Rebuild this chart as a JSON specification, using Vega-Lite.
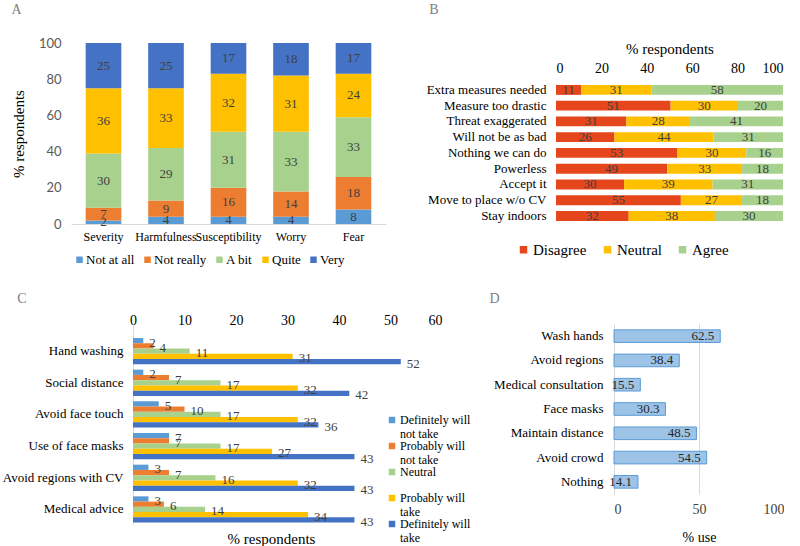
{
"$schema":"https://vega.github.io/schema/vega-lite/v6.json",
"background":"white",
"padding":{"left":2,"top":3,"right":0,"bottom":0},
"config":{"view":{"stroke":null},"font":"Liberation Serif",
 "title":{"font":"Liberation Serif","fontWeight":"normal","fontSize":14,"color":"#7f7f7f","anchor":"start"},
 "axis":{"labelFont":"Liberation Serif","titleFont":"Liberation Serif","titleFontWeight":"normal","labelColor":"#000000","titleColor":"#000000","ticks":false,"grid":false,"labelOverlap":false},
 "axisY":{"labelOverlap":false},
 "axisQuantitative":{"labelOverlap":false},
 "legend":{"labelFont":"Liberation Serif","labelColor":"#000000","symbolType":"square"}},
"datasets":{
 "a":[
  {"item":"Severity","level":"Not at all","ord":1,"value":2},
  {"item":"Severity","level":"Not really","ord":2,"value":7},
  {"item":"Severity","level":"A bit","ord":3,"value":30},
  {"item":"Severity","level":"Quite","ord":4,"value":36},
  {"item":"Severity","level":"Very","ord":5,"value":25},
  {"item":"Harmfulness","level":"Not at all","ord":1,"value":4},
  {"item":"Harmfulness","level":"Not really","ord":2,"value":9},
  {"item":"Harmfulness","level":"A bit","ord":3,"value":29},
  {"item":"Harmfulness","level":"Quite","ord":4,"value":33},
  {"item":"Harmfulness","level":"Very","ord":5,"value":25},
  {"item":"Susceptibility","level":"Not at all","ord":1,"value":4},
  {"item":"Susceptibility","level":"Not really","ord":2,"value":16},
  {"item":"Susceptibility","level":"A bit","ord":3,"value":31},
  {"item":"Susceptibility","level":"Quite","ord":4,"value":32},
  {"item":"Susceptibility","level":"Very","ord":5,"value":17},
  {"item":"Worry","level":"Not at all","ord":1,"value":4},
  {"item":"Worry","level":"Not really","ord":2,"value":14},
  {"item":"Worry","level":"A bit","ord":3,"value":33},
  {"item":"Worry","level":"Quite","ord":4,"value":31},
  {"item":"Worry","level":"Very","ord":5,"value":18},
  {"item":"Fear","level":"Not at all","ord":1,"value":8},
  {"item":"Fear","level":"Not really","ord":2,"value":18},
  {"item":"Fear","level":"A bit","ord":3,"value":33},
  {"item":"Fear","level":"Quite","ord":4,"value":24},
  {"item":"Fear","level":"Very","ord":5,"value":17}
 ],
 "b":[
  {"item":"Extra measures needed","level":"Disagree","ord":1,"value":11},
  {"item":"Extra measures needed","level":"Neutral","ord":2,"value":31},
  {"item":"Extra measures needed","level":"Agree","ord":3,"value":58},
  {"item":"Measure too drastic","level":"Disagree","ord":1,"value":51},
  {"item":"Measure too drastic","level":"Neutral","ord":2,"value":30},
  {"item":"Measure too drastic","level":"Agree","ord":3,"value":20},
  {"item":"Threat exaggerated","level":"Disagree","ord":1,"value":31},
  {"item":"Threat exaggerated","level":"Neutral","ord":2,"value":28},
  {"item":"Threat exaggerated","level":"Agree","ord":3,"value":41},
  {"item":"Will not be as bad","level":"Disagree","ord":1,"value":26},
  {"item":"Will not be as bad","level":"Neutral","ord":2,"value":44},
  {"item":"Will not be as bad","level":"Agree","ord":3,"value":31},
  {"item":"Nothing we can do","level":"Disagree","ord":1,"value":53},
  {"item":"Nothing we can do","level":"Neutral","ord":2,"value":30},
  {"item":"Nothing we can do","level":"Agree","ord":3,"value":16},
  {"item":"Powerless","level":"Disagree","ord":1,"value":49},
  {"item":"Powerless","level":"Neutral","ord":2,"value":33},
  {"item":"Powerless","level":"Agree","ord":3,"value":18},
  {"item":"Accept it","level":"Disagree","ord":1,"value":30},
  {"item":"Accept it","level":"Neutral","ord":2,"value":39},
  {"item":"Accept it","level":"Agree","ord":3,"value":31},
  {"item":"Move to place w/o CV","level":"Disagree","ord":1,"value":55},
  {"item":"Move to place w/o CV","level":"Neutral","ord":2,"value":27},
  {"item":"Move to place w/o CV","level":"Agree","ord":3,"value":18},
  {"item":"Stay indoors","level":"Disagree","ord":1,"value":32},
  {"item":"Stay indoors","level":"Neutral","ord":2,"value":38},
  {"item":"Stay indoors","level":"Agree","ord":3,"value":30}
 ],
 "c":[
  {"item":"Hand washing","series":"Definitely will not take","value":2},
  {"item":"Hand washing","series":"Probably will not take","value":4},
  {"item":"Hand washing","series":"Neutral","value":11},
  {"item":"Hand washing","series":"Probably will take","value":31},
  {"item":"Hand washing","series":"Definitely will take","value":52},
  {"item":"Social distance","series":"Definitely will not take","value":2},
  {"item":"Social distance","series":"Probably will not take","value":7},
  {"item":"Social distance","series":"Neutral","value":17},
  {"item":"Social distance","series":"Probably will take","value":32},
  {"item":"Social distance","series":"Definitely will take","value":42},
  {"item":"Avoid face touch","series":"Definitely will not take","value":5},
  {"item":"Avoid face touch","series":"Probably will not take","value":10},
  {"item":"Avoid face touch","series":"Neutral","value":17},
  {"item":"Avoid face touch","series":"Probably will take","value":32},
  {"item":"Avoid face touch","series":"Definitely will take","value":36},
  {"item":"Use of face masks","series":"Definitely will not take","value":7},
  {"item":"Use of face masks","series":"Probably will not take","value":7},
  {"item":"Use of face masks","series":"Neutral","value":17},
  {"item":"Use of face masks","series":"Probably will take","value":27},
  {"item":"Use of face masks","series":"Definitely will take","value":43},
  {"item":"Avoid regions with CV","series":"Definitely will not take","value":3},
  {"item":"Avoid regions with CV","series":"Probably will not take","value":7},
  {"item":"Avoid regions with CV","series":"Neutral","value":16},
  {"item":"Avoid regions with CV","series":"Probably will take","value":32},
  {"item":"Avoid regions with CV","series":"Definitely will take","value":43},
  {"item":"Medical advice","series":"Definitely will not take","value":3},
  {"item":"Medical advice","series":"Probably will not take","value":6},
  {"item":"Medical advice","series":"Neutral","value":14},
  {"item":"Medical advice","series":"Probably will take","value":34},
  {"item":"Medical advice","series":"Definitely will take","value":43}
 ],
 "d":[
  {"item":"Wash hands","value":62.5},
  {"item":"Avoid regions","value":38.4},
  {"item":"Medical consultation","value":15.5},
  {"item":"Face masks","value":30.3},
  {"item":"Maintain distance","value":48.5},
  {"item":"Avoid crowd","value":54.5},
  {"item":"Nothing","value":14.1}
 ]
},
"spacing":25,
"resolve":{"scale":{"color":"independent"},"legend":{"color":"independent"}},
"vconcat":[
 {"hconcat":[
  {
   "title":{"text":"A","offset":20},
   "width":315,"height":181,
   "data":{"name":"a"},
   "transform":[{"stack":"value","groupby":["item"],"sort":[{"field":"ord","order":"ascending"}],"as":["v0","v1"]}],
   "layer":[
    {"mark":{"type":"bar"},
     "encoding":{
      "x":{"field":"item","type":"nominal","sort":["Severity","Harmfulness","Susceptibility","Worry","Fear"],"scale":{"paddingInner":0.43,"paddingOuter":0.235},
           "axis":{"title":null,"labelAngle":0,"labelFontSize":12,"labelPadding":7,"domain":true,"domainColor":"#d9d9d9"}},
      "y":{"field":"v0","type":"quantitative","scale":{"domain":[0,100]},
           "axis":{"values":[0,20,40,60,80,100],"labelOverlap":false,"labelFont":"Lato","labelFontSize":13,"labelColor":"#595959","labelPadding":10,"domain":false,"title":"% respondents","titleFontSize":15,"titlePadding":12}},
      "y2":{"field":"v1"},
      "color":{"field":"level","type":"nominal","sort":["Not at all","Not really","A bit","Quite","Very"],
        "scale":{"domain":["Not at all","Not really","A bit","Quite","Very"],"range":["#5b9bd5","#ed7d31","#a9d18e","#ffc000","#4472c4"]},
        "legend":{"title":null,"orient":"none","direction":"horizontal","legendX":2,"legendY":210,"labelFontSize":13,"symbolSize":42,"columnPadding":6,"symbolStrokeWidth":0,"labelOffset":0}}
     }},
    {"transform":[{"fold":["v0","v1"],"as":["edge","pos"]},{"aggregate":[{"op":"mean","field":"pos","as":"mid"}],"groupby":["item","level","value"]}],
     "mark":{"type":"text","fontSize":13,"color":"#404040","baseline":"middle"},
     "encoding":{
      "x":{"field":"item","type":"nominal","sort":["Severity","Harmfulness","Susceptibility","Worry","Fear"]},
      "y":{"field":"mid","type":"quantitative",
           "axis":{"values":[0,20,40,60,80,100],"labelOverlap":false,"labelFont":"Lato","labelFontSize":13,"labelColor":"#595959","labelPadding":10,"domain":false,"title":"% respondents","titleFontSize":15,"titlePadding":12}},
      "text":{"field":"value","type":"quantitative"}
     }}
   ]
  },
  {
   "title":{"text":"B","offset":24,"dx":3},
   "width":227,"height":181,
   "data":{"name":"b"},
   "transform":[{"stack":"value","groupby":["item"],"sort":[{"field":"ord","order":"ascending"}],"offset":"normalize","as":["v0","v1"]}],
   "layer":[
    {"mark":{"type":"bar"},
     "encoding":{
      "y":{"field":"item","type":"nominal",
           "scale":{"domain":[" ","  ","Extra measures needed","Measure too drastic","Threat exaggerated","Will not be as bad","Nothing we can do","Powerless","Accept it","Move to place w/o CV","Stay indoors"],"paddingInner":0.37,"paddingOuter":0.43,"align":0.77},
           "axis":{"title":null,"labelFontSize":13,"labelPadding":10,"domain":false}},
      "x":{"field":"v0","type":"quantitative","scale":{"domain":[0,1]},
           "axis":{"orient":"top","offset":-39,"values":[0,0.2,0.4,0.6,0.8,1],"labelExpr":"format(datum.value*100,'d')","labelFontSize":14,"labelPadding":7,"domain":false,"title":"% respondents","titleFontSize":15,"titlePadding":5}},
      "x2":{"field":"v1"},
      "color":{"field":"level","type":"nominal","sort":["Disagree","Neutral","Agree"],
        "scale":{"domain":["Disagree","Neutral","Agree"],"range":["#e5461c","#ffc000","#a9d18e"]},
        "legend":{"title":null,"orient":"none","direction":"horizontal","legendX":-40,"legendY":199,"labelFontSize":15,"symbolSize":56,"columnPadding":13,"symbolStrokeWidth":0,"labelOffset":2}}
     }},
    {"transform":[{"fold":["v0","v1"],"as":["edge","pos"]},{"aggregate":[{"op":"mean","field":"pos","as":"mid"}],"groupby":["item","level","value"]}],
     "mark":{"type":"text","fontSize":13,"color":"#404040","baseline":"middle"},
     "encoding":{
      "y":{"field":"item","type":"nominal"},
      "x":{"field":"mid","type":"quantitative"},
      "text":{"field":"value","type":"quantitative"}
     }}
   ]
  }
 ],"spacing":40,"resolve":{"scale":{"color":"independent"},"legend":{"color":"independent"}}},
 {"hconcat":[
  {
   "title":{"text":"C","offset":7,"dx":15},
   "width":371,"height":200,
   "data":{"name":"c"},
   "layer":[
    {"mark":{"type":"bar"},
     "encoding":{
      "y":{"field":"item","type":"nominal","sort":["Hand washing","Social distance","Avoid face touch","Use of face masks","Avoid regions with CV","Medical advice"],
           "scale":{"paddingInner":0.17,"paddingOuter":0.2425,"align":0.91},
           "axis":{"title":null,"offset":-62,"labelFontSize":13,"labelPadding":10,"domain":true,"domainColor":"#d9d9d9"}},
      "yOffset":{"field":"series","type":"nominal","sort":["Definitely will not take","Probably will not take","Neutral","Probably will take","Definitely will take"],"scale":{"paddingInner":0,"paddingOuter":0}},
      "x":{"field":"value","type":"quantitative","scale":{"domain":[-12.04,60],"nice":false,"zero":false},
           "axis":{"orient":"top","offset":-10,"values":[0,10,20,30,40,50,60],"labelFontSize":14,"labelPadding":7,"domain":false,"title":null}},
      "color":{"field":"series","type":"nominal","sort":["Definitely will not take","Probably will not take","Neutral","Probably will take","Definitely will take"],
        "scale":{"domain":["Definitely will not take","Probably will not take","Neutral","Probably will take","Definitely will take"],"range":["#5b9bd5","#ed7d31","#a9d18e","#ffc000","#4472c4"]},
        "legend":{"title":null,"orient":"none","direction":"vertical","legendX":315,"legendY":90,"labelFontSize":12,"symbolSize":42,"symbolStrokeWidth":0,"labelOffset":2,"rowPadding":0,
          "labelExpr":"datum.label == 'Neutral' ? ['Neutral', ' '] : split(replace(datum.label,' will ',' will\\n'),'\\n')"}}
     }},
    {"mark":{"type":"text","align":"left","dx":6,"dy":2,"fontSize":13,"color":"#404040","baseline":"middle"},
     "encoding":{
      "y":{"field":"item","type":"nominal","sort":["Hand washing","Social distance","Avoid face touch","Use of face masks","Avoid regions with CV","Medical advice"]},
      "yOffset":{"field":"series","type":"nominal","sort":["Definitely will not take","Probably will not take","Neutral","Probably will take","Definitely will take"]},
      "x":{"field":"value","type":"quantitative","axis":{"orient":"bottom","labels":false,"domain":false,"title":"% respondents","titleFontSize":15,"titlePadding":7,"titleX":200}},
      "text":{"field":"value","type":"quantitative"}
     }}
   ],
   "resolve":{"axis":{"x":"independent"}}
  },
  {
   "title":{"text":"D","offset":18,"dx":-4},
   "width":170,"height":170,
   "data":{"name":"d"},
   "layer":[
    {"mark":{"type":"bar","fill":"#9dc3e6","stroke":"#5b9bd5","strokeWidth":1},
     "encoding":{
      "y":{"field":"item","type":"nominal","sort":null,"scale":{"paddingInner":0.48,"paddingOuter":0.24},
           "axis":{"title":null,"labelFontSize":13,"labelPadding":11,"domain":false}},
      "x":{"field":"value","type":"quantitative","scale":{"domain":[0,100]},
           "axis":{"values":[0,50,100],"grid":true,"gridColor":"#d9d9d9","domain":false,"labelFontSize":14,"labelColor":"#404040","labelPadding":8,"title":"% use","titleFontSize":14,"titlePadding":14}}
     }},
    {"mark":{"type":"text","align":"right","dx":-6,"fontSize":13,"color":"#262626","baseline":"middle"},
     "encoding":{
      "y":{"field":"item","type":"nominal","sort":null},
      "x":{"field":"value","type":"quantitative"},
      "text":{"field":"value","type":"quantitative","format":".1f"}
     }}
   ]
  }
 ],"spacing":18,"resolve":{"scale":{"color":"independent"},"legend":{"color":"independent"}}}
]
}
